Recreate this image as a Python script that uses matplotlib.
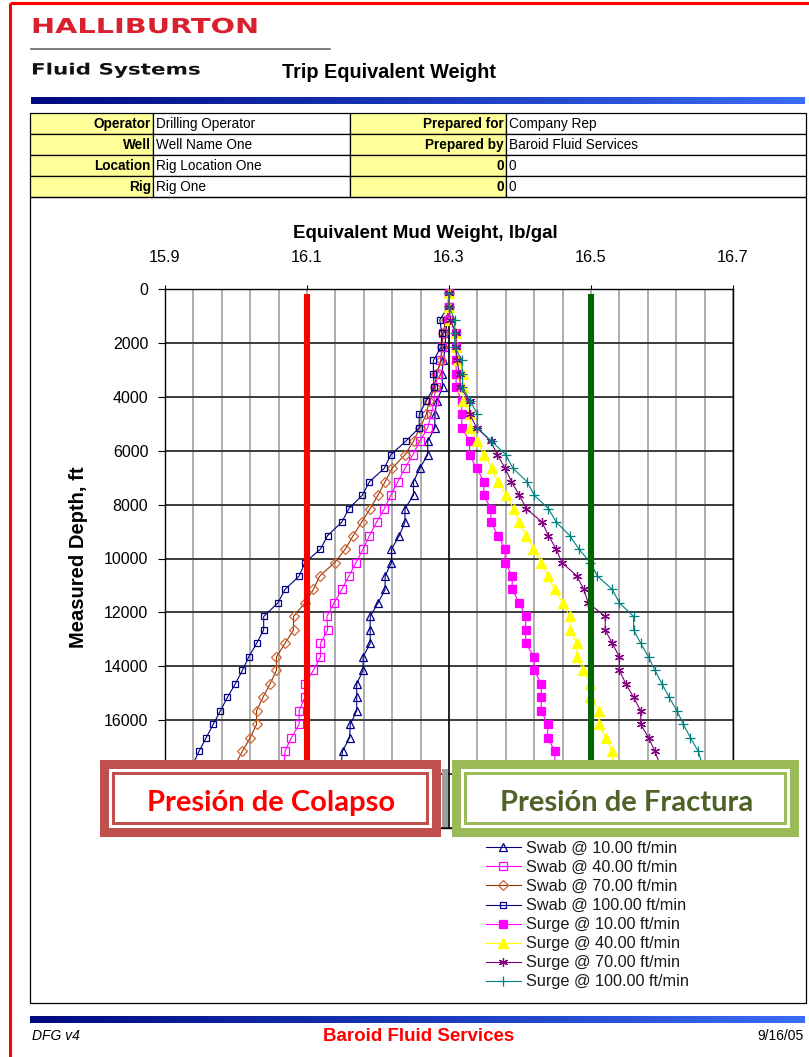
import matplotlib
matplotlib.use("Agg")
import numpy as np
import matplotlib.pyplot as plt
from matplotlib.patches import Rectangle
from matplotlib.patheffects import AbstractPathEffect
from matplotlib.transforms import Affine2D
from matplotlib.colors import LinearSegmentedColormap

# ---------------- data ----------------
depth_ft = [150, 650, 1150, 1650, 2150, 2650, 3150, 3650, 4150, 4650,
            5150, 5650, 6150, 6650, 7150, 7650, 8150, 8650, 9150, 9650,
            10150, 10650, 11150, 11650, 12150, 12650, 13150, 13650, 14150, 14650,
            15150, 15650, 16150, 16650, 17150, 17650, 18150, 18650, 19150, 19650]

swab_10 = [16.300, 16.300, 16.298, 16.295, 16.295, 16.292, 16.290, 16.291, 16.283, 16.280,
           16.280, 16.270, 16.270, 16.259, 16.250, 16.250, 16.238, 16.238, 16.230, 16.219,
           16.219, 16.210, 16.210, 16.200, 16.189, 16.189, 16.189, 16.179, 16.179, 16.170,
           16.170, 16.170, 16.161, 16.160, 16.150, 16.148, 16.140, 16.140, 16.131, 16.130]
swab_40 = [16.300, 16.300, 16.298, 16.292, 16.290, 16.288, 16.284, 16.281, 16.279, 16.275,
           16.270, 16.259, 16.249, 16.238, 16.228, 16.218, 16.209, 16.198, 16.188, 16.179,
           16.169, 16.159, 16.149, 16.138, 16.128, 16.129, 16.119, 16.119, 16.109, 16.097,
           16.097, 16.089, 16.089, 16.078, 16.069, 16.068, 16.060, 16.052, 16.050, 16.041]
swab_70 = [16.300, 16.300, 16.296, 16.291, 16.290, 16.289, 16.282, 16.280, 16.272, 16.268,
           16.259, 16.250, 16.238, 16.220, 16.210, 16.200, 16.189, 16.177, 16.165, 16.154,
           16.139, 16.118, 16.109, 16.097, 16.081, 16.081, 16.069, 16.057, 16.057, 16.048,
           16.038, 16.029, 16.029, 16.020, 16.009, 15.999, 15.990, 15.981, 15.970, 15.962]
swab_100 = [16.299, 16.299, 16.287, 16.290, 16.289, 16.278, 16.278, 16.279, 16.268, 16.258,
            16.258, 16.239, 16.218, 16.209, 16.188, 16.178, 16.159, 16.149, 16.129, 16.119,
            16.097, 16.089, 16.069, 16.059, 16.039, 16.039, 16.029, 16.018, 16.009, 15.999,
            15.988, 15.978, 15.968, 15.958, 15.948, 15.939, 15.930, 15.921, 15.911, 15.902]
surge_10 = [16.300, 16.300, 16.300, 16.310, 16.310, 16.310, 16.310, 16.310, 16.318, 16.318,
            16.318, 16.329, 16.329, 16.339, 16.349, 16.349, 16.359, 16.359, 16.369, 16.379,
            16.379, 16.389, 16.389, 16.399, 16.408, 16.408, 16.408, 16.420, 16.420, 16.430,
            16.430, 16.430, 16.439, 16.439, 16.449, 16.449, 16.458, 16.460, 16.468, 16.470]
surge_40 = [16.300, 16.300, 16.302, 16.310, 16.310, 16.312, 16.320, 16.320, 16.320, 16.330,
            16.330, 16.340, 16.349, 16.360, 16.369, 16.380, 16.391, 16.399, 16.409, 16.419,
            16.430, 16.439, 16.449, 16.460, 16.470, 16.470, 16.480, 16.480, 16.489, 16.499,
            16.499, 16.511, 16.511, 16.521, 16.530, 16.531, 16.540, 16.549, 16.551, 16.560]
surge_70 = [16.300, 16.300, 16.302, 16.310, 16.310, 16.311, 16.315, 16.316, 16.329, 16.329,
            16.339, 16.359, 16.368, 16.379, 16.388, 16.399, 16.409, 16.431, 16.440, 16.451,
            16.459, 16.480, 16.490, 16.496, 16.520, 16.520, 16.530, 16.540, 16.540, 16.549,
            16.560, 16.570, 16.570, 16.581, 16.590, 16.597, 16.608, 16.619, 16.628, 16.639]
surge_100 = [16.300, 16.300, 16.308, 16.308, 16.308, 16.318, 16.319, 16.319, 16.330, 16.340,
             16.340, 16.360, 16.380, 16.390, 16.410, 16.420, 16.440, 16.451, 16.470, 16.483,
             16.499, 16.509, 16.530, 16.540, 16.560, 16.560, 16.570, 16.581, 16.590, 16.600,
             16.610, 16.621, 16.630, 16.640, 16.651, 16.657, 16.668, 16.679, 16.690, 16.700]

series_labels = ["Swab @ 10.00 ft/min", "Swab @ 40.00 ft/min", "Swab @ 70.00 ft/min",
                 "Swab @ 100.00 ft/min", "Surge @ 10.00 ft/min", "Surge @ 40.00 ft/min",
                 "Surge @ 70.00 ft/min", "Surge @ 100.00 ft/min"]

x_ticks = [15.9, 16.1, 16.3, 16.5, 16.7]
x_tick_labels = ["15.9", "16.1", "16.3", "16.5", "16.7"]
y_ticks = [0, 2000, 4000, 6000, 8000, 10000, 12000, 14000, 16000, 18000, 20000]

mud_weight = 16.30
collapse_ppg = 16.10
fracture_ppg = 16.50
limit_depths = [170, 20000]

table_rows = [["Operator", "Drilling Operator", "Prepared for", "Company Rep"],
              ["Well", "Well Name One", "Prepared by", "Baroid Fluid Services"],
              ["Location", "Rig Location One", "0", "0"],
              ["Rig", "Rig One", "0", "0"]]

# ---------------- helpers ----------------
class HStretch(AbstractPathEffect):
    """Horizontally widen glyphs (for the extended logo type)."""
    def __init__(self, sx):
        super().__init__()
        self.sx = sx

    def draw_path(self, renderer, gc, tpath, affine, rgbFace=None):
        x0 = affine.get_matrix()[0, 2]
        t = affine + Affine2D().translate(-x0, 0).scale(self.sx, 1).translate(x0, 0)
        renderer.draw_path(gc, tpath, t, rgbFace)


SANS = ["Liberation Sans", "DejaVu Sans"]
W, H = 809, 1057
fig = plt.figure(figsize=(W / 100, H / 100), dpi=100)

# page layer (pixel coordinates)
pg = fig.add_axes([0, 0, 1, 1], zorder=0)
pg.axis("off")

# red page border
pg.plot([10, 10], [3, H], color="#FF0000", lw=2.2, solid_capstyle="butt")
pg.plot([10, W], [3, 3], color="#FF0000", lw=2.2, solid_capstyle="butt")

pg.text(31, 33, "HALLIBURTON", fontsize=14.8, fontweight="bold", family="DejaVu Sans",
        color="#D9202F", ha="left", va="baseline", path_effects=[HStretch(1.40)])
pg.plot([31, 330], [49, 49], color="#666666", lw=1.2)
pg.text(31, 74.5, "Fluid Systems", fontsize=11.2, fontweight="bold", family="DejaVu Sans",
        color="#111111", ha="left", va="baseline", path_effects=[HStretch(1.38)])
pg.text(282, 78, "Trip Equivalent Weight", fontsize=14.3, fontweight="bold", family=SANS,
        color="black", ha="left", va="baseline")

blue_cmap = LinearSegmentedColormap.from_list("bar", ["#000A80", "#1838B8", "#3A6CF5"])
grad = np.linspace(0, 1, 256).reshape(1, -1)
pg.imshow(grad, extent=(31, 805, 104, 97), aspect="auto", cmap=blue_cmap, interpolation="bilinear")
pg.imshow(grad, extent=(30, 805, 1023, 1016), aspect="auto", cmap=blue_cmap, interpolation="bilinear")

# info table
row_y = [113, 134, 155, 176, 197]
col_x = [30, 153, 350, 506, 806]
for r in range(4):
    for c in range(4):
        fc = "#FFFF99" if c in (0, 2) else "white"
        pg.add_patch(Rectangle((col_x[c], row_y[r]), col_x[c + 1] - col_x[c], row_y[r + 1] - row_y[r],
                               facecolor=fc, edgecolor="black", lw=0.9))
        yc = (row_y[r] + row_y[r + 1]) / 2 + 0.5
        if c in (0, 2):
            pg.text(col_x[c + 1] - 2, yc, table_rows[r][c], fontsize=9.8, fontweight="bold",
                    family=SANS, ha="right", va="center")
        else:
            pg.text(col_x[c] + 3, yc, table_rows[r][c], fontsize=9.8, family=SANS,
                    ha="left", va="center")

# chart frame
pg.add_patch(Rectangle((30, 197), 776, 806, facecolor="none", edgecolor="black", lw=0.9))

# footer
pg.text(32, 1040, "DFG v4", fontsize=10, style="italic", family=SANS, ha="left", va="baseline")
pg.text(419, 1041, "Baroid Fluid Services", fontsize=13.5, fontweight="bold", family=SANS,
        color="#FF0000", ha="center", va="baseline")
pg.text(804, 1040, "9/16/05", fontsize=10, family=SANS, ha="right", va="baseline")

pg.set_xlim(0, W)
pg.set_ylim(H, 0)

# ---------------- main chart ----------------
L, R, T, B = 165, 733, 289, 828
ax = fig.add_axes([L / W, 1 - B / H, (R - L) / W, (B - T) / H], zorder=1)
ax.set_xlim(x_ticks[0], x_ticks[-1])
ax.set_ylim(y_ticks[-1], y_ticks[0])

minor_x = np.linspace(x_ticks[0], x_ticks[-1], 21)
ax.set_xticks(minor_x, minor=True)
ax.set_xticks(x_ticks)
ax.set_xticklabels(x_tick_labels)
ax.set_yticks(y_ticks)
ax.set_yticklabels([str(v) for v in y_ticks])
ax.xaxis.tick_top()
ax.tick_params(axis="x", which="major", length=3, width=0.8, pad=14, labelsize=11.7,
               top=True, bottom=False, labeltop=True, labelbottom=False)
ax.tick_params(axis="x", which="minor", length=0, top=False, bottom=False)
ax.tick_params(axis="y", which="major", length=5, width=0.8, pad=7, labelsize=11.5, right=False)
for lab in ax.get_xticklabels() + ax.get_yticklabels():
    lab.set_family(SANS)

ax.grid(which="both", axis="x", color="#A8A8A8", lw=1.3, zorder=0)
ax.grid(which="major", axis="y", color="#3C3C3C", lw=1.4, zorder=0)
ax.set_axisbelow(True)
ax.axvline(mud_weight, color="black", lw=1.1, zorder=1)
for s in ax.spines.values():
    s.set_color("black")
    s.set_linewidth(1.0)

styles = [
    dict(color="#000080", marker="^", ms=6.2, mfc="none", mec="#000080"),
    dict(color="#FF00FF", marker="s", ms=5.2, mfc="none", mec="#FF00FF"),
    dict(color="#993300", marker="D", ms=4.6, mfc="none", mec="#CC6633"),
    dict(color="#000080", marker="s", ms=4.0, mfc="none", mec="#000080"),
    dict(color="#FF00FF", marker="s", ms=5.5, mfc="#FF00FF", mec="#FF00FF"),
    dict(color="#FFFF00", marker="^", ms=7.0, mfc="#FFFF00", mec="#FFFF00"),
    dict(color="#800080", marker=(6, 2, 0), ms=6.5, mfc="#800080", mec="#800080"),
    dict(color="#008080", marker="+", ms=6.5, mfc="#008080", mec="#008080"),
]
series = [swab_10, swab_40, swab_70, swab_100, surge_10, surge_40, surge_70, surge_100]
handles = []
for vals, lab, st in zip(series, series_labels, styles):
    ln, = ax.plot(vals, depth_ft, lw=0.8, mew=0.9, label=lab, zorder=3, **st)
    handles.append(ln)

ax.plot([collapse_ppg, collapse_ppg], limit_depths, color="#FF0000", lw=4.4,
        solid_capstyle="butt", zorder=5)
ax.plot([fracture_ppg, fracture_ppg], limit_depths, color="#006400", lw=4.4,
        solid_capstyle="butt", zorder=5)

ax.set_xlabel("Equivalent Mud Weight, lb/gal", fontsize=13.5, fontweight="bold", family=SANS)
ax.xaxis.set_label_position("top")
ax.xaxis.set_label_coords((425.5 - L) / (R - L), (B - 233) / (B - T))
ax.xaxis.label.set_va("center")
ax.set_ylabel("Measured Depth, ft", fontsize=14.5, fontweight="bold", family=SANS)
ax.yaxis.set_label_coords((78 - L) / (R - L), (B - 557) / (B - T))
ax.yaxis.label.set_va("center")

# ---------------- overlay callout boxes ----------------
ov = fig.add_axes([0, 0, 1, 1], zorder=3)
ov.axis("off")
ov.patch.set_alpha(0)
ov.add_patch(Rectangle((442, 769), 6, 58, facecolor="#9E9E9E", edgecolor="none"))


def callout(x0, y0, x1, y1, color, text, tcolor):
    w, h = x1 - x0, y1 - y0
    ov.add_patch(Rectangle((x0, y0), w, h, facecolor=color, edgecolor="none"))
    ov.add_patch(Rectangle((x0 + 9, y0 + 9), w - 18, h - 18, facecolor="white", edgecolor="none"))
    ov.add_patch(Rectangle((x0 + 12, y0 + 12), w - 24, h - 24, facecolor=color, edgecolor="none"))
    ov.add_patch(Rectangle((x0 + 14.7, y0 + 14.7), w - 29.4, h - 29.4, facecolor="white", edgecolor="none"))
    ov.text((x0 + x1) / 2 + 1, 811, text, fontsize=21, fontweight="bold", family=["Lato", "DejaVu Sans"],
            color=tcolor, ha="center", va="baseline")


callout(100, 760, 441, 837, "#C0504D", "Presión de Colapso", "#FF0000")
callout(452, 760, 799, 837, "#9BBB59", "Presión de Fractura", "#4F6228")
ov.set_xlim(0, W)
ov.set_ylim(H, 0)

# ---------------- legend ----------------
leg = fig.legend(handles=handles, labels=series_labels, loc="upper left",
                 bbox_to_anchor=(486 / W, 1 - 841 / H), frameon=False,
                 handlelength=2.15, handletextpad=0.3, labelspacing=0.25, borderpad=0,
                 borderaxespad=0, numpoints=1, prop={"family": SANS, "size": 11.7})
for t in leg.get_texts():
    t.set_color("#1A1A1A")

fig.savefig("out.png", dpi=100)
